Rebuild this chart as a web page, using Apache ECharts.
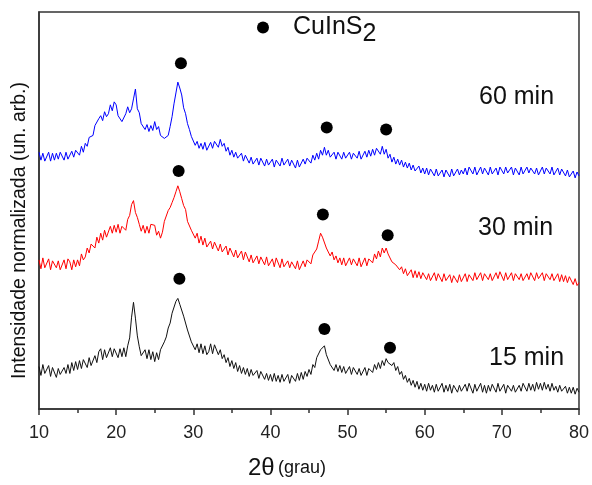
<!DOCTYPE html>
<html>
<head>
<meta charset="utf-8">
<script src="https://cdn.jsdelivr.net/npm/echarts@6/dist/echarts.min.js"></script>
<style>
html,body{margin:0;padding:0;background:#fff;}
#chart{width:592px;height:485px;}
</style>
</head>
<body>
<div id="chart"></div>
<script>
// 2θ sampling grid (degrees)
const thetaStart = 10;
const thetaStep = 0.25;

// Intensities (arb. units, offset stacked), one value per 0.25°
const intens15 = [
  43,34,45,36, 35,44,33,42, 44,32,41,35, 33,42,36,45, 36,47,39,48,
  40,49,41,50, 51,42,52,44, 44,54,47,58, 61,50,60,52, 51,62,53,61,
  63,52,61,53, 62,53,64,72, 93,108,92,74, 63,54,52,60, 51,60,50,58,
  48,57,50,60, 60,68,73,82, 87,97,99,109, 112,106,107,94, 93,80,79,68,
  70,60,66,57, 66,56,64,55, 58,66,56,65, 64,55,60,51, 55,47,52,43,
  49,41,47,38, 44,36,42,35, 41,33,40,34, 32,39,31,38, 37,30,36,29,
  35,28,36,28, 34,27,35,28, 27,35,26,34, 35,28,36,29, 37,30,38,33,
  40,35,45,42, 52,51,60,58, 64,55,55,45, 47,39,45,38, 44,37,43,36,
  36,43,35,42, 42,35,41,34, 35,42,34,41, 43,37,45,40, 47,41,49,44,
  51,47,49,44, 47,39,43,35, 38,30,34,27, 31,24,29,22, 28,20,26,19,
  25,18,26,19, 24,17,25,18, 19,26,17,24, 18,25,16,24, 25,17,24,18,
  17,25,18,26, 24,16,25,18, 19,26,17,24, 16,24,18,25, 24,17,26,18,
  18,25,16,24, 25,18,24,17, 17,24,18,26, 24,18,26,19, 25,18,27,20,
  26,19,27,20, 25,18,26,19, 23,17,24,18, 17,23,16,22, 16,22,15,21,
  17
];
const intens30 = [
  151,142,153,143, 144,152,141,150, 152,143,150,141, 143,151,142,152, 149,141,151,144,
  151,145,157,151, 154,163,158,167, 169,163,174,168, 178,171,181,174, 176,185,178,186,
  179,187,178,185, 186,181,192,196, 207,211,199,194, 187,180,186,178, 185,178,187,186,
  186,176,180,173, 179,190,192,201, 204,209,214,220, 226,220,213,206, 202,190,192,181,
  183,173,178,168, 175,166,173,164, 163,170,162,169, 168,160,167,159, 158,165,156,163,
  163,154,161,153, 153,160,151,159, 158,149,156,148, 148,155,147,154, 153,146,154,145,
  145,152,144,153, 151,143,152,144, 142,150,143,149, 149,142,150,141, 143,150,144,151,
  152,147,156,155, 162,170,178,174, 172,163,165,155, 159,151,155,148, 153,146,153,145,
  145,153,146,152, 152,145,153,144, 146,153,145,152, 154,148,157,152, 160,154,163,158,
  163,157,157,149, 151,146,146,141, 144,137,142,135, 135,141,133,140, 133,139,132,138,
  138,131,137,130, 131,138,130,137, 136,129,137,130, 129,136,128,135, 135,128,136,129,
  130,137,129,136, 137,130,138,131, 131,138,130,137, 138,131,137,130, 131,138,132,139,
  137,130,138,131, 131,138,130,137, 138,131,137,130, 130,137,131,138, 137,130,138,132,
  131,138,130,137, 138,131,137,130, 131,137,129,136, 129,135,128,134, 133,126,132,125,
  128
];
const intens60 = [
  260,252,259,251, 253,260,251,259, 252,259,253,260, 259,252,260,253, 253,261,255,262,
  263,257,266,260, 269,266,275,273, 277,287,285,294, 297,292,301,296, 299,308,302,311,
  308,297,299,291, 289,299,306,300, 304,314,324,304, 300,289,291,283, 288,281,287,282,
  291,283,286,277, 279,274,274,277, 286,296,309,320, 331,325,318,305, 299,289,283,276,
  275,267,271,264, 269,263,270,262, 263,270,264,271, 271,265,273,266, 269,261,265,257,
  262,255,260,254, 253,259,251,257, 256,249,255,248, 248,254,247,254, 253,246,253,247,
  246,253,245,252, 253,246,254,247, 247,253,246,252, 251,244,252,245, 246,253,248,254,
  255,249,257,252, 259,253,262,257, 265,257,262,255, 254,260,253,260, 260,253,260,254,
  254,260,253,259, 260,254,261,253, 254,261,255,262, 256,263,257,264, 265,258,266,258,
  263,254,258,250, 255,248,253,247, 252,245,250,244, 249,242,247,241, 240,246,239,244,
  238,244,237,243, 242,236,243,236, 236,242,235,242, 242,235,243,236, 236,243,237,242,
  238,244,237,245, 244,238,245,237, 238,245,238,244, 244,237,245,238, 238,244,237,245,
  244,238,245,239, 238,245,237,244, 244,237,245,238, 238,245,239,244, 245,238,244,237,
  239,245,238,244, 244,238,245,237, 238,244,237,243, 243,236,242,235, 235,241,234,240,
  236
];

// CuInS2 reflection markers
const peakTheta  = [28.4, 47.3, 55.0, 28.1, 46.8, 55.2, 28.2, 47.0, 55.5];
const peakIntens = [350, 285, 283, 241, 197, 176, 132, 81, 62];

const sampleLabels = ['60 min', '30 min', '15 min'];
const xTicks = [10, 20, 30, 40, 50, 60, 70, 80];

const FONT = 'Liberation Sans, Arial, sans-serif';

function toPairs(arr) {
  const out = [];
  for (let i = 0; i < arr.length; i++) out.push([thetaStart + i * thetaStep, arr[i]]);
  return out;
}

const chart = echarts.init(document.getElementById('chart'), null, {renderer: 'canvas'});
const option = {
  animation: false,
  backgroundColor: '#ffffff',
  textStyle: {fontFamily: FONT},
  grid: {left: 39, right: 12, top: 12, bottom: 71, show: true, borderColor: '#333', borderWidth: 1.5, backgroundColor: 'transparent'},
  legend: {
    data: ['CuInS2'],
    icon: 'circle',
    left: 252, top: 10,
    itemWidth: 50, itemHeight: 12,
    formatter: function () { return 'CuInS{s|2}'; },
    textStyle: {fontSize: 25, color: '#111', fontFamily: FONT,
      rich: {s: {fontSize: 25, color: '#111', fontFamily: FONT, padding: [14, 0, 0, 0]}}},
    itemStyle: {color: '#000', opacity: 1}
  },
  xAxis: {
    type: 'value', min: xTicks[0], max: xTicks[xTicks.length - 1], interval: 10,
    axisLine: {show: true, onZero: false, lineStyle: {color: '#333', width: 1.5}},
    axisTick: {show: true, inside: false, length: 6, lineStyle: {color: '#333', width: 1.5}},
    minorTick: {show: true, splitNumber: 2, length: 4, lineStyle: {color: '#333', width: 1.5}},
    splitLine: {show: false},
    axisLabel: {fontSize: 18, color: '#222', margin: 15, fontFamily: FONT},
    name: '{a|2θ} {b|(grau)}',
    nameLocation: 'middle', nameGap: 47,
    nameTextStyle: {padding: [0, 44, 0, 0], rich: {
      a: {fontSize: 24, color: '#111', fontFamily: FONT},
      b: {fontSize: 18, color: '#111', fontFamily: FONT}
    }}
  },
  yAxis: {
    type: 'value', min: 0, max: 402,
    axisLine: {show: true, lineStyle: {color: '#333', width: 1.5}},
    axisTick: {show: false}, axisLabel: {show: false}, splitLine: {show: false},
    name: 'Intensidade normalizada (un. arb.)',
    nameLocation: 'middle', nameRotate: 90, nameGap: 9,
    nameTextStyle: {fontSize: 19.5, color: '#111', fontFamily: FONT, padding: [0, 40, 0, 0]}
  },
  graphic: [
    {type: 'text', x: 479, y: 97, style: {text: sampleLabels[0], font: '25px ' + FONT, fill: '#111', verticalAlign: 'middle'}},
    {type: 'text', x: 478, y: 228, style: {text: sampleLabels[1], font: '25px ' + FONT, fill: '#111', verticalAlign: 'middle'}},
    {type: 'text', x: 489, y: 358, style: {text: sampleLabels[2], font: '25px ' + FONT, fill: '#111', verticalAlign: 'middle'}}
  ],
  series: [
    {name: '60 min', type: 'line', data: toPairs(intens60), showSymbol: false, symbol: 'none',
     lineStyle: {color: '#0000ff', width: 1}, itemStyle: {color: '#0000ff'}},
    {name: '30 min', type: 'line', data: toPairs(intens30), showSymbol: false, symbol: 'none',
     lineStyle: {color: '#ff0000', width: 1}, itemStyle: {color: '#ff0000'}},
    {name: '15 min', type: 'line', data: toPairs(intens15), showSymbol: false, symbol: 'none',
     lineStyle: {color: '#111111', width: 1}, itemStyle: {color: '#111111'}},
    {name: 'CuInS2', type: 'scatter', symbol: 'circle', symbolSize: 12,
     data: peakTheta.map((t, i) => [t, peakIntens[i]]),
     itemStyle: {color: '#000', opacity: 1}, z: 5}
  ]
};
chart.setOption(option);
</script>
</body>
</html>
